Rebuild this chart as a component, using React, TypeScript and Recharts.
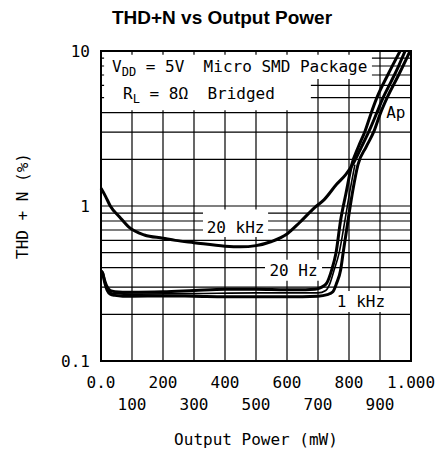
import React from "react";
import {
  LineChart,
  Line,
  XAxis,
  YAxis,
  CartesianGrid,
  ReferenceArea,
  Label,
} from "recharts";

const xTicks = [0, 100, 200, 300, 400, 500, 600, 700, 800, 900, 1000];
const xTickLabels = ["0.0", "100", "200", "300", "400", "500", "600", "700", "800", "900", "1.000"];
const yTicks = [0.1, 0.2, 0.3, 0.4, 0.5, 0.6, 0.7, 0.8, 0.9, 1, 2, 3, 4, 5, 6, 7, 8, 9, 10];
const yLabelled = [0.1, 1, 10];
const yLabelText = ["0.1", "1", "10"];

// 20 kHz
const khz20Power = [0, 15, 30, 60, 90, 140, 200, 240, 300, 400, 450, 500, 550, 600, 640, 690, 720, 760, 790, 815, 840, 865, 890, 910, 935, 960, 981];
const khz20Thd = [1.3, 1.15, 1.0, 0.85, 0.73, 0.65, 0.62, 0.6, 0.58, 0.55, 0.545, 0.555, 0.59, 0.66, 0.78, 0.98, 1.1, 1.38, 1.6, 1.9, 2.4, 3.05, 4.0, 5.0, 6.3, 8.0, 10];

// 20 Hz
const hz20Power = [0, 5, 12, 20, 30, 45, 70, 100, 200, 300, 400, 500, 600, 660, 690, 705, 718, 728, 744, 758, 773, 790, 809, 830, 852, 870, 890, 925, 965];
const hz20Thd = [0.38, 0.37, 0.33, 0.3, 0.285, 0.28, 0.278, 0.278, 0.28, 0.285, 0.29, 0.29, 0.288, 0.288, 0.29, 0.295, 0.305, 0.318, 0.386, 0.497, 0.81, 1.2, 1.85, 2.4, 3.05, 3.9, 5.0, 7.0, 10];

// 1 kHz
const khz1Power = [0, 5, 12, 20, 30, 45, 70, 100, 200, 300, 400, 500, 600, 700, 730, 748, 760, 773, 781, 797, 812, 829, 855, 881, 900, 923, 960, 997];
const khz1Thd = [0.38, 0.37, 0.32, 0.285, 0.27, 0.265, 0.262, 0.262, 0.263, 0.262, 0.26, 0.26, 0.26, 0.262, 0.268, 0.28, 0.318, 0.386, 0.497, 0.81, 1.25, 1.85, 2.4, 3.05, 3.9, 5.0, 7.0, 10];

// thin trace between the two flat ones, merging into the 20 kHz curve
const midPower = [0, 5, 12, 20, 30, 45, 100, 300, 500, 700, 725, 739, 752, 768, 787, 803, 819];
const midThd = [0.38, 0.37, 0.325, 0.29, 0.277, 0.272, 0.27, 0.272, 0.275, 0.275, 0.285, 0.318, 0.386, 0.497, 0.81, 1.25, 1.85];

const zip = (p: number[], t: number[]) => p.map((v, i) => ({ p: v, thd: t[i] }));

const FONT = "'DejaVu Sans Mono', monospace";

function XTick(props: any) {
  const { x, y, payload } = props;
  const i = xTicks.indexOf(payload.value);
  const row = i % 2;
  return (
    <text
      x={x}
      y={y + (row === 0 ? 13 : 35)}
      textAnchor="middle"
      dominantBaseline="central"
      fontFamily={FONT}
      fontSize={16}
      fill="#000"
    >
      {xTickLabels[i]}
    </text>
  );
}

function YTick(props: any) {
  const { x, y, payload } = props;
  const i = yLabelled.indexOf(payload.value);
  if (i < 0) return <g />;
  return (
    <text x={x - 3} y={y} textAnchor="end" dominantBaseline="central" fontFamily={FONT} fontSize={16} fill="#000">
      {yLabelText[i]}
    </text>
  );
}

const boxText = (lines: (vb: any) => React.ReactNode) => (p: any) => lines(p.viewBox);

export default function App() {
  return (
    <div style={{ position: "absolute", left: 0, top: 0, width: 436, height: 458, background: "#fff" }}>
      <LineChart width={436} height={458} margin={{ top: 51, right: 25, bottom: 0, left: 0 }}>
        <CartesianGrid stroke="#000" strokeWidth={1.2} />
        <XAxis
          type="number"
          dataKey="p"
          domain={[0, 1000]}
          ticks={xTicks}
          interval={0}
          tick={<XTick />}
          tickLine={false}
          axisLine={false}
          height={97}
        >
          <Label
            content={(p: any) => (
              <text
                x={p.viewBox.x + p.viewBox.width / 2}
                y={p.viewBox.y + 78}
                textAnchor="middle"
                dominantBaseline="central"
                fontFamily={FONT}
                fontSize={16}
                fill="#000"
              >
                Output Power (mW)
              </text>
            )}
          />
        </XAxis>
        <YAxis
          type="number"
          scale="log"
          domain={[0.1, 10]}
          allowDataOverflow
          ticks={yTicks}
          interval={0}
          tick={<YTick />}
          tickLine={false}
          axisLine={false}
          width={101}
        >
          <Label
            content={(p: any) => {
              const cx = p.viewBox.x + 22;
              const cy = p.viewBox.y + p.viewBox.height / 2;
              return (
                <text
                  x={cx}
                  y={cy}
                  transform={`rotate(-90, ${cx}, ${cy})`}
                  textAnchor="middle"
                  dominantBaseline="central"
                  fontFamily={FONT}
                  fontSize={16}
                  fill="#000"
                >
                  THD + N (%)
                </text>
              );
            }}
          />
        </YAxis>

        <ReferenceArea
          x1={10}
          x2={874}
          y1={6.6}
          y2={9.45}
          fill="#fff"
          fillOpacity={1}
          stroke="none"
          label={{
            content: boxText((vb) => (
              <text x={vb.x + 8} y={vb.y + 17} fontFamily={FONT} fontSize={16} fill="#000" xmlSpace="preserve" style={{ whiteSpace: "pre" }}>
                V
                <tspan fontSize={12} dy={4}>DD</tspan>
                <tspan dy={-4}>{" = 5V  Micro SMD Package"}</tspan>
              </text>
            )),
          }}
        />
        <ReferenceArea
          x1={10}
          x2={677}
          y1={4.15}
          y2={6.6}
          fill="#fff"
          fillOpacity={1}
          stroke="none"
          label={{
            content: boxText((vb) => (
              <text x={vb.x + 19} y={vb.y + 20} fontFamily={FONT} fontSize={16} fill="#000" xmlSpace="preserve" style={{ whiteSpace: "pre" }}>
                R
                <tspan fontSize={12} dy={4}>L</tspan>
                <tspan dy={-4}>{" = 8Ω  Bridged"}</tspan>
              </text>
            )),
          }}
        />
        <ReferenceArea
          x1={329}
          x2={539}
          y1={0.63}
          y2={0.95}
          fill="#fff"
          fillOpacity={1}
          stroke="none"
          label={{
            content: boxText((vb) => (
              <text x={vb.x + vb.width / 2} y={vb.y + 18} textAnchor="middle" dominantBaseline="central" fontFamily={FONT} fontSize={16} fill="#000">
                20 kHz
              </text>
            )),
          }}
        />
        <ReferenceArea
          x1={529}
          x2={713}
          y1={0.33}
          y2={0.45}
          fill="#fff"
          fillOpacity={1}
          stroke="none"
          label={{
            content: boxText((vb) => (
              <text x={vb.x + vb.width / 2} y={vb.y + vb.height / 2} textAnchor="middle" dominantBaseline="central" fontFamily={FONT} fontSize={16} fill="#000">
                20 Hz
              </text>
            )),
          }}
        />
        <ReferenceArea
          x1={755}
          x2={935}
          y1={0.207}
          y2={0.283}
          fill="#fff"
          fillOpacity={1}
          stroke="none"
          label={{
            content: boxText((vb) => (
              <text x={vb.x + vb.width / 2 - 2} y={vb.y + vb.height / 2} textAnchor="middle" dominantBaseline="central" fontFamily={FONT} fontSize={16} fill="#000">
                1 kHz
              </text>
            )),
          }}
        />
        <ReferenceArea
          x1={905}
          x2={997}
          y1={3.6}
          y2={4.5}
          fill="#fff"
          fillOpacity={1}
          stroke="none"
          label={{
            content: boxText((vb) => (
              <text x={vb.x + vb.width / 2} y={vb.y + vb.height / 2} textAnchor="middle" dominantBaseline="central" fontFamily={FONT} fontSize={16} fill="#000">
                Ap
              </text>
            )),
          }}
        />

        <Line data={zip(khz20Power, khz20Thd)} dataKey="thd" type="monotone" stroke="#000" strokeWidth={3} dot={false} isAnimationActive={false} />
        <Line data={zip(hz20Power, hz20Thd)} dataKey="thd" type="monotone" stroke="#000" strokeWidth={3} dot={false} isAnimationActive={false} />
        <Line data={zip(khz1Power, khz1Thd)} dataKey="thd" type="monotone" stroke="#000" strokeWidth={3} dot={false} isAnimationActive={false} />
        <Line data={zip(midPower, midThd)} dataKey="thd" type="monotone" stroke="#000" strokeWidth={1.6} dot={false} isAnimationActive={false} />

        <ReferenceArea x1={0} x2={1000} y1={0.1} y2={10} fill="none" stroke="#000" strokeWidth={2} />
      </LineChart>
      <div
        style={{
          position: "absolute",
          top: 7,
          left: 4,
          width: 436,
          textAlign: "center",
          fontFamily: "'Liberation Sans', Arial, sans-serif",
          fontWeight: "bold",
          fontSize: 19,
          color: "#000",
        }}
      >
        THD+N vs Output Power
      </div>
    </div>
  );
}
